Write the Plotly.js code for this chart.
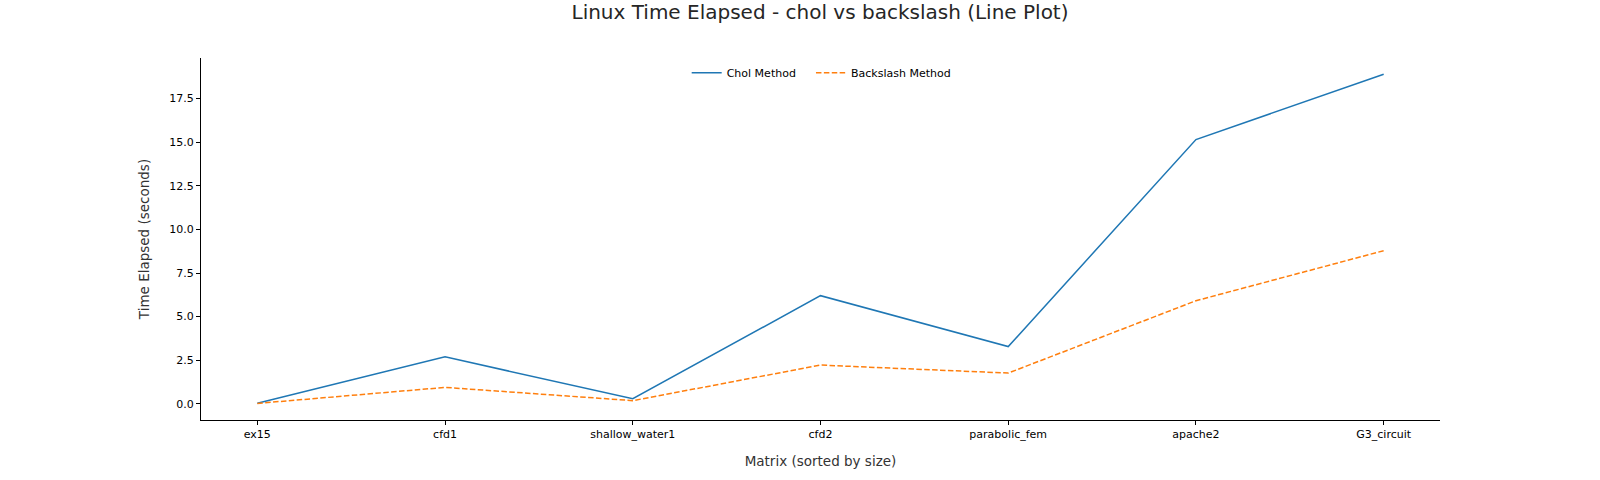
<!DOCTYPE html>
<html>
<head>
<meta charset="utf-8">
<script src="https://cdn.plot.ly/plotly-3.0.1.min.js"></script>
<style>html,body{margin:0;padding:0;background:#fff}#chart{width:1600px;height:480px}</style>
</head>
<body>
<div id="chart"></div>
<script>
const matrices = ["ex15", "cfd1", "shallow_water1", "cfd2", "parabolic_fem", "apache2", "G3_circuit"];
const cholTimes = [0.03, 2.69, 0.29, 6.2, 3.28, 15.15, 18.9];
const backslashTimes = [0.02, 0.94, 0.18, 2.22, 1.76, 5.91, 8.78];

const idx = matrices.map((_, i) => i);

const traces = [
  {x: idx, y: cholTimes, type: "scatter", mode: "lines", name: "Chol Method",
   legend: "legend", line: {color: "#1f77b4", width: 1.5}},
  {x: idx, y: backslashTimes, type: "scatter", mode: "lines", name: "Backslash Method",
   legend: "legend2", line: {color: "#ff7f0e", width: 1.5, dash: "5.5px,2.4px"}}
];

const font = "DejaVu Sans, sans-serif";
const legendBase = {orientation: "h", xanchor: "left", y: 0.999, yanchor: "top", itemwidth: 30,
  font: {family: font, size: 11, color: "#000"}, bgcolor: "rgba(0,0,0,0)"};
const layout = {
  width: 1600, height: 480,
  margin: {l: 201, r: 160, t: 58, b: 60},
  paper_bgcolor: "#fff", plot_bgcolor: "#fff",
  font: {family: font, size: 11, color: "#000"},
  title: {text: "Linux Time Elapsed - chol vs backslash (Line Plot)", x: 0.5125, xanchor: "center",
          y: 0.975, yanchor: "middle", font: {family: font, size: 20, color: "#262626"}},
  showlegend: true,
  legend: Object.assign({}, legendBase, {x: 0.392}),
  legend2: Object.assign({}, legendBase, {x: 0.4923}),
  xaxis: {
    range: [-0.3, 6.3], tickmode: "array", tickvals: idx, ticktext: matrices,
    showgrid: false, zeroline: false, showline: true, linecolor: "#000", linewidth: 1,
    ticks: "outside", ticklen: 4, tickcolor: "#000", tickwidth: 1,
    tickfont: {family: font, size: 11, color: "#000"},
    title: {text: "Matrix (sorted by size)", standoff: 16, font: {family: font, size: 13.5, color: "#333"}}
  },
  yaxis: {
    range: [-0.93, 19.83], tick0: 0, dtick: 2.5, tickformat: ".1f",
    showgrid: false, zeroline: false, showline: true, linecolor: "#000", linewidth: 1,
    ticks: "outside", ticklen: 4, tickcolor: "#000", tickwidth: 1,
    tickfont: {family: font, size: 11, color: "#000"},
    title: {text: "Time Elapsed (seconds)", standoff: 16, font: {family: font, size: 13.5, color: "#333"}}
  }
};

Plotly.newPlot("chart", traces, layout, {displayModeBar: false, staticPlot: true});
</script>
</body>
</html>
